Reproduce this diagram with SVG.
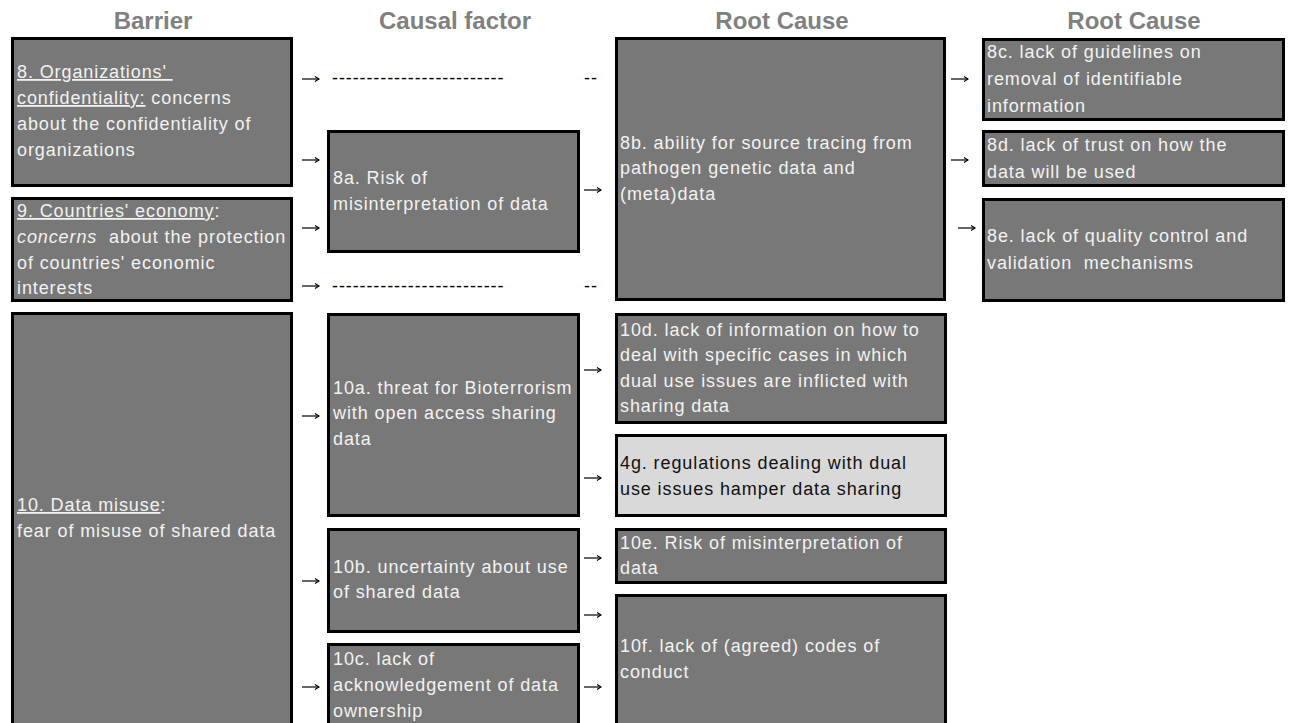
<svg xmlns="http://www.w3.org/2000/svg" width="1290" height="723" viewBox="0 0 1290 723">
<style>
.hd{font-family:"Liberation Sans",Arial,sans-serif;font-size:24px;font-weight:bold;fill:#808080;text-anchor:middle}
.bx{fill:#787878;stroke:#000;stroke-width:3}
.lt{fill:#d9d9d9;stroke:#000;stroke-width:3}
.t{font-family:"Liberation Sans",Arial,sans-serif;font-size:18px;letter-spacing:0.9px;fill:#f2f2f2}
.td{font-family:"Liberation Sans",Arial,sans-serif;font-size:18px;letter-spacing:0.9px;fill:#111}
.u{text-decoration:underline}
.ar{stroke:#000;stroke-width:1.2;fill:none;marker-end:url(#ah)}
.ds{font-family:"Liberation Sans",Arial,sans-serif;font-size:18px;letter-spacing:0.9px;fill:#000}
</style>
<defs>
<marker id="ah" markerWidth="8" markerHeight="8" refX="5" refY="4" orient="auto" markerUnits="userSpaceOnUse">
<path d="M1,1.5 L5,4 L1,6.5" fill="none" stroke="#000" stroke-width="1.1"/>
</marker>
</defs>
<rect width="1290" height="723" fill="#fff"/>
<g id="headers">
<text class="hd" x="153" y="29">Barrier</text>
<text class="hd" x="455" y="29">Causal factor</text>
<text class="hd" x="782" y="29">Root Cause</text>
<text class="hd" x="1134" y="29">Root Cause</text>
</g>
<g id="n8">
<rect class="bx" x="12.5" y="38.5" width="279" height="147"/>
<text class="t" x="17" y="78"><tspan class="u">8. Organizations'&#160;</tspan></text>
<text class="t" x="17" y="104"><tspan class="u">confidentiality:</tspan> concerns</text>
<text class="t" x="17" y="130">about the confidentiality of</text>
<text class="t" x="17" y="156">organizations</text>
</g>
<g id="n9">
<rect class="bx" x="12.5" y="198.5" width="279" height="102"/>
<text class="t" x="17" y="217"><tspan class="u">9. Countries' economy</tspan>:</text>
<text class="t" x="17" y="243"><tspan font-style="italic">concerns</tspan>&#160; about the protection</text>
<text class="t" x="17" y="269">of countries' economic</text>
<text class="t" x="17" y="294">interests</text>
</g>
<g id="n10">
<rect class="bx" x="12.5" y="313.5" width="279" height="420"/>
<text class="t" x="17" y="511"><tspan class="u">10. Data misuse</tspan>:</text>
<text class="t" x="17" y="537">fear of misuse of shared data</text>
</g>
<g id="n8a">
<rect class="bx" x="328.5" y="131.5" width="250" height="120"/>
<text class="t" x="333" y="184">8a. Risk of</text>
<text class="t" x="333" y="210">misinterpretation of data</text>
</g>
<g id="n8b">
<rect class="bx" x="616.5" y="38.5" width="328" height="261"/>
<text class="t" x="620" y="149">8b. ability for source tracing from</text>
<text class="t" x="620" y="174">pathogen genetic data and</text>
<text class="t" x="620" y="200">(meta)data</text>
</g>
<g id="n8c">
<rect class="bx" x="983.5" y="39.5" width="300" height="80"/>
<text class="t" x="987" y="58">8c. lack of guidelines on</text>
<text class="t" x="987" y="85">removal of identifiable</text>
<text class="t" x="987" y="112">information</text>
</g>
<g id="n8d">
<rect class="bx" x="983.5" y="131.5" width="300" height="54"/>
<text class="t" x="987" y="151">8d. lack of trust on how the</text>
<text class="t" x="987" y="178">data will be used</text>
</g>
<g id="n8e">
<rect class="bx" x="983.5" y="199.5" width="300" height="101"/>
<text class="t" x="987" y="242">8e. lack of quality control and</text>
<text class="t" x="987" y="269">validation&#160; mechanisms</text>
</g>
<g id="n10a">
<rect class="bx" x="328.5" y="314.5" width="250" height="201"/>
<text class="t" x="333" y="394">10a. threat for Bioterrorism</text>
<text class="t" x="333" y="419">with open access sharing</text>
<text class="t" x="333" y="445">data</text>
</g>
<g id="n10b">
<rect class="bx" x="328.5" y="529.5" width="250" height="102"/>
<text class="t" x="333" y="573">10b. uncertainty about use</text>
<text class="t" x="333" y="598">of shared data</text>
</g>
<g id="n10c">
<rect class="bx" x="328.5" y="644.5" width="250" height="90"/>
<text class="t" x="333" y="665">10c. lack of</text>
<text class="t" x="333" y="691">acknowledgement of data</text>
<text class="t" x="333" y="717">ownership</text>
</g>
<g id="n10d">
<rect class="bx" x="616.5" y="314.5" width="329" height="108"/>
<text class="t" x="620" y="336">10d. lack of information on how to</text>
<text class="t" x="620" y="361">deal with specific cases in which</text>
<text class="t" x="620" y="387">dual use issues are inflicted with</text>
<text class="t" x="620" y="412">sharing data</text>
</g>
<g id="n4g">
<rect class="lt" x="616.5" y="435.5" width="329" height="80"/>
<text class="td" x="620" y="469">4g. regulations dealing with dual</text>
<text class="td" x="620" y="495">use issues hamper data sharing</text>
</g>
<g id="n10e">
<rect class="bx" x="616.5" y="529.5" width="329" height="53"/>
<text class="t" x="620" y="549">10e. Risk of misinterpretation of</text>
<text class="t" x="620" y="574">data</text>
</g>
<g id="n10f">
<rect class="bx" x="616.5" y="595.5" width="329" height="140"/>
<text class="t" x="620" y="652">10f. lack of (agreed) codes of</text>
<text class="t" x="620" y="678">conduct</text>
</g>
<g id="connectors">
<path class="ar" d="M302,79 H319"/>
<path class="ar" d="M302,160 H319"/>
<path class="ar" d="M302,228 H319"/>
<path class="ar" d="M302,286 H319"/>
<path class="ar" d="M302,416 H319"/>
<path class="ar" d="M302,581 H319"/>
<path class="ar" d="M302,687 H319"/>
<path class="ar" d="M584,190 H601"/>
<path class="ar" d="M584,370 H601"/>
<path class="ar" d="M584,478 H601"/>
<path class="ar" d="M584,558 H601"/>
<path class="ar" d="M584,615 H601"/>
<path class="ar" d="M584,687 H601"/>
<path class="ar" d="M951,79 H968"/>
<path class="ar" d="M951,160 H968"/>
<path class="ar" d="M958,228 H975"/>
<text class="ds" x="332" y="84">-------------------------</text>
<text class="ds" x="584" y="84">--</text>
<text class="ds" x="332" y="292">-------------------------</text>
<text class="ds" x="584" y="292">--</text>
</g>
</svg>
